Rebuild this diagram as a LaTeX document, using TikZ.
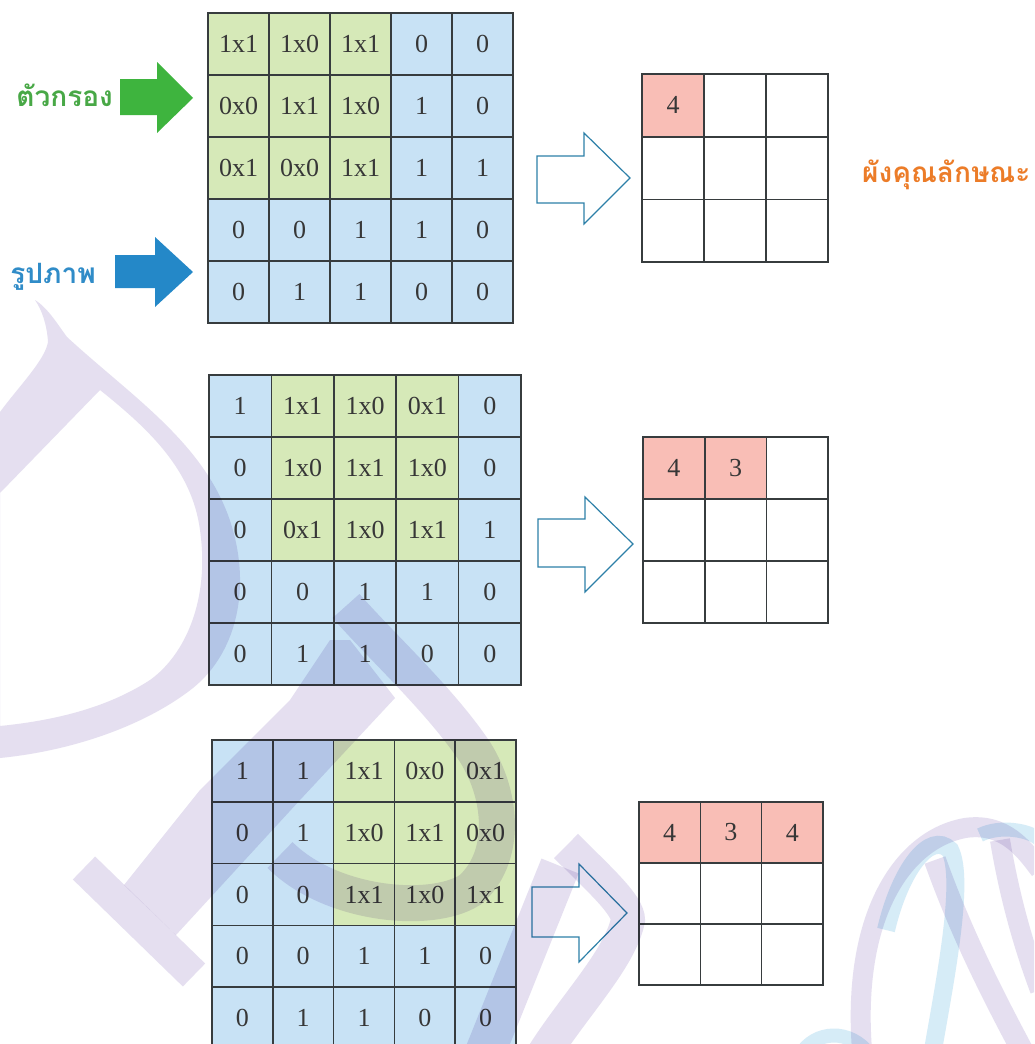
\documentclass[tikz,border=0pt]{standalone}
\usepackage{fontspec}
\setmainfont{Liberation Serif}
\newfontfamily\thaifont[Script=Thai]{Loma}
\definecolor{fgreen}{RGB}{214,233,184}
\definecolor{fblue}{RGB}{200,226,245}
\definecolor{fpink}{RGB}{249,190,182}
\definecolor{gridc}{RGB}{55,60,62}
\definecolor{txtc}{RGB}{55,55,55}
\definecolor{agreen}{RGB}{62,180,62}
\definecolor{ablue}{RGB}{36,136,200}
\definecolor{tgreen}{RGB}{72,168,70}
\definecolor{tblue}{RGB}{48,140,200}
\definecolor{torange}{RGB}{236,124,40}
\definecolor{hollowc}{RGB}{45,128,168}
\definecolor{wml}{RGB}{229,223,240}
\definecolor{wmb}{RGB}{214,236,247}
\tikzset{
  cell/.style={draw=gridc, line width=1.6pt, inner sep=0pt, outer sep=0pt,
    font=\fontsize{26}{30}\selectfont, text=txtc},
  ocell/.style={cell, fill=white},
  hollow/.style={draw=hollowc, line width=1.2pt, fill=white, line join=miter},
  lbl/.style={font=\thaifont\bfseries\fontsize{28}{34}\selectfont, inner sep=0pt},
  wmband/.style={draw=wml, line cap=butt},
}
\newcommand\ingrid[7]{%
  \foreach \rowdata [count=\r] in {#7} {
    \foreach \t [count=\c] in \rowdata {
      \pgfmathtruncatemacro\isgreen{(\r<4)&&(\c>=#6)&&(\c<#6+3)}
      \ifnum\isgreen=1 \def\cellfc{fgreen}\else\def\cellfc{fblue}\fi
      \node[cell, fill=\cellfc, minimum width=#4pt, minimum height=#5pt]
        (#1-\r-\c) at ({#2+(\c-0.5)*#4},{#3+(\r-0.5)*#5}) {\t};
    }
  }
}
\newcommand\outgrid[6]{%
  \foreach \t [count=\c] in {#6} {
    \if-\t
      \node[ocell, minimum width=#4pt, minimum height=#5pt]
        (#1-1-\c) at ({#2+(\c-0.5)*#4},{#3+0.5*#5}) {};
    \else
      \node[ocell, fill=fpink, minimum width=#4pt, minimum height=#5pt]
        (#1-1-\c) at ({#2+(\c-0.5)*#4},{#3+0.5*#5}) {\t};
    \fi
  }
  \foreach \r in {2,3} {
    \foreach \c in {1,2,3} {
      \node[ocell, minimum width=#4pt, minimum height=#5pt]
        (#1-\r-\c) at ({#2+(\c-0.5)*#4},{#3+(\r-0.5)*#5}) {};
    }
  }
}
\begin{document}
\begin{tikzpicture}[x=1pt,y=-1pt]
\useasboundingbox (0,0) rectangle (1034,1044);
\clip (0,0) rectangle (1034,1044);
\fill[white] (0,0) rectangle (1034,1044);

% input grids
\ingrid{ga}{208}{13}{61}{62}{1}{{1x1,1x0,1x1,0,0},{0x0,1x1,1x0,1,0},{0x1,0x0,1x1,1,1},{0,0,1,1,0},{0,1,1,0,0}}
\ingrid{gb}{209}{375}{62.4}{62}{2}{{1,1x1,1x0,0x1,0},{0,1x0,1x1,1x0,0},{0,0x1,1x0,1x1,1},{0,0,1,1,0},{0,1,1,0,0}}
\ingrid{gc}{212}{740}{60.8}{61.8}{3}{{1,1,1x1,0x0,0x1},{0,1,1x0,1x1,0x0},{0,0,1x1,1x0,1x1},{0,0,1,1,0},{0,1,1,0,0}}

% output grids
\outgrid{oa}{642}{74}{62}{62.7}{4,-,-}
\outgrid{ob}{643}{437}{61.7}{62}{4,3,-}
\outgrid{oc}{639}{802}{61.3}{61}{4,3,4}

% hollow arrows
\draw[hollow] (537,156) -- (584,156) -- (584,133) -- (630,178) -- (584,224) -- (584,203) -- (537,203) -- cycle;
\draw[hollow] (538,519) -- (585,519) -- (585,497) -- (633,544) -- (585,592) -- (585,567) -- (538,567) -- cycle;
\draw[hollow] (532,887) -- (579,887) -- (579,864) -- (627,913) -- (579,962) -- (579,937) -- (532,937) -- cycle;

% solid arrows
\fill[agreen] (120,79) -- (157,79) -- (157,62) -- (193,98) -- (157,133) -- (157,115) -- (120,115) -- cycle;
\fill[ablue] (115,255) -- (155,255) -- (155,237) -- (193,272) -- (155,307) -- (155,288) -- (115,288) -- cycle;

% labels
\node[lbl, text=tgreen, anchor=base east] (lblfilter) at (113,106) {ตัวกรอง};
\node[lbl, text=tblue, anchor=base east] (lblimage) at (96,283) {รูปภาพ};
\node[lbl, text=torange, anchor=base west] (lblfeature) at (862,182) {ผังคุณลักษณะ};

% watermark
\begin{scope}[blend mode=multiply]
\fill[wml, even odd rule]
  (0,412) .. controls (20,385) and (45,360) .. (48,342)
  .. controls (47,325) and (42,310) .. (35,300)
  .. controls (48,308) and (58,325) .. (67,337)
  .. controls (130,395) and (200,440) .. (228,515)
  .. controls (252,580) and (240,650) .. (193,688)
  .. controls (150,722) and (80,750) .. (0,758) -- cycle
  (0,493) -- (100,390)
  .. controls (150,430) and (192,470) .. (200,530)
  .. controls (210,600) and (185,655) .. (150,680)
  .. controls (110,706) and (60,720) .. (0,726) -- cycle;
% second letter: stem, foot serif, bowl
\fill[wml] (350,640) -- (395,698) -- (300,800) -- (176,935) -- (124,885)
  -- (200,790) -- (290,700) -- (330,640) -- cycle;
\draw[wmband, line width=32pt] (84,868) -- (194,975);
\draw[wmband, line width=36pt] (346,606) .. controls (385,650) and (440,700) .. (475,752)
  .. controls (505,800) and (505,860) .. (470,890)
  .. controls (430,915) and (330,905) .. (280,855);
% third letter
\draw[wmband, line width=40pt] (482,1060) -- (560,866);
\draw[wmband, line width=34pt] (566,846) .. controls (600,880) and (628,905) .. (628,920)
  .. controls (620,960) and (570,1010) .. (540,1060);
% ribbon
\draw[wmband, line width=20pt] (862,1050) .. controls (852,920) and (900,840) .. (965,828)
  .. controls (1005,822) and (1025,850) .. (1040,870);
\draw[draw=wmb, line width=18pt] (886,930) .. controls (900,870) and (930,830) .. (950,850)
  .. controls (965,880) and (945,980) .. (933,1050);
\draw[wmband, line width=22pt] (935,860) .. controls (960,930) and (990,990) .. (1022,1050);
\draw[wmband, line width=20pt] (1000,840) .. controls (1010,900) and (1025,950) .. (1040,990);
\draw[draw=wmb, line width=14pt] (980,835) .. controls (1000,825) and (1030,830) .. (1040,840);
\draw[draw=wmb, line width=14pt] (800,1055) .. controls (815,1030) and (850,1028) .. (870,1055);
\end{scope}
\end{tikzpicture}
\end{document}
